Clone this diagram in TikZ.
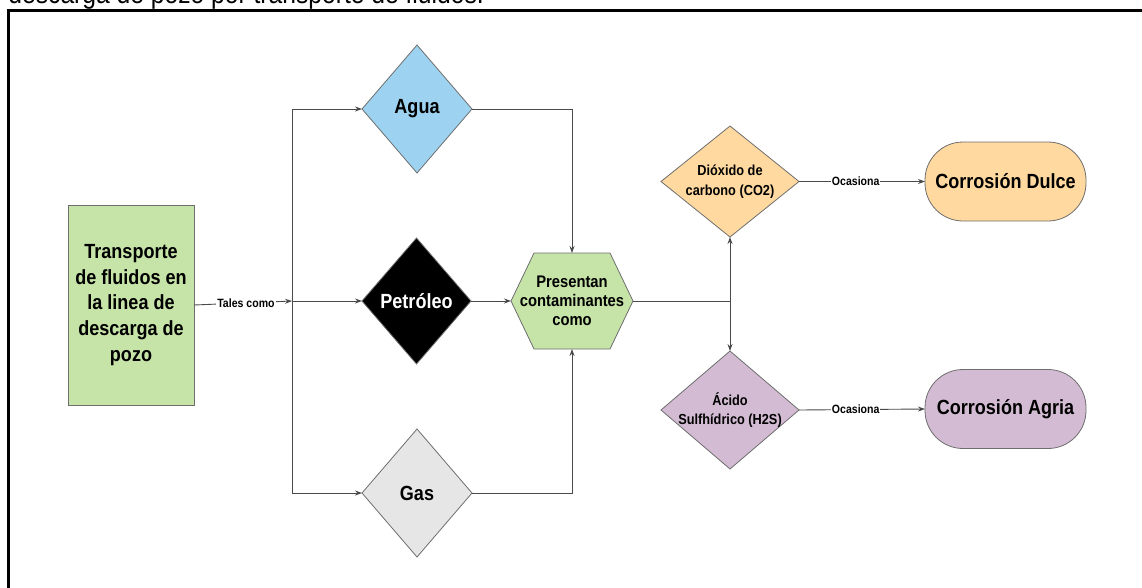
\documentclass[tikz,border=0pt]{standalone}
\usepackage{fontspec}
\setmainfont{Liberation Sans}[FakeStretch=0.88]
\usetikzlibrary{shapes.geometric,arrows.meta,backgrounds}

\definecolor{leafgreen}{HTML}{C6E4A8}
\definecolor{skyblue}{HTML}{9DD3F0}
\definecolor{paleg}{HTML}{E6E6E6}
\definecolor{peach}{HTML}{FFD9A0}
\definecolor{lilac}{HTML}{D3BCD3}
\definecolor{edgegray}{HTML}{6E6E6E}
\definecolor{wire}{HTML}{4A4A4A}

\begin{document}
\begin{tikzpicture}[x=1pt,y=-1pt,
  every node/.style={inner sep=0pt, outer sep=0pt},
  bigfont/.style={font=\fontsize{20.5}{25.6}\selectfont\bfseries},
  midfont/.style={font=\fontsize{16.8}{19}\selectfont\bfseries},
  smallfont/.style={font=\fontsize{14.5}{19.5}\selectfont\bfseries},
  tagfont/.style={font=\fontsize{12}{14}\selectfont\bfseries},
  procbox/.style={rectangle, draw=edgegray, line width=0.8pt, fill=leafgreen,
    minimum width=126, minimum height=200, align=center, bigfont},
  choice/.style={diamond, draw=edgegray, line width=0.8pt},
  dtext/.style={align=center},
  pill/.style={rectangle, rounded corners=38, draw=edgegray, line width=0.8pt,
    minimum width=161, minimum height=79, bigfont},
  wireline/.style={draw=wire, line width=0.9pt},
  arrowline/.style={wireline, -{Stealth[length=7pt,width=5pt]}},
  tag/.style={fill=white, inner xsep=1pt, inner ysep=1pt, tagfont}
]
\useasboundingbox (0,0) rectangle (1142,587);
\clip (0,0) rectangle (1142,587);

% caption line above the frame and the frame itself
\node[anchor=base west, font=\fontsize{28}{30}\selectfont] (caption) at (8.5,3.5)
  {descarga de pozo por transporte de fluidos.};
\draw[line width=2.5pt, black] (8.7,620) -- (8.7,10.7) -- (1160,10.7);

% source box
\node[procbox] (source) at (131,305)
  {Transporte\\de fluidos en\\la linea de\\descarga de\\pozo};

% the three fluids
\node[choice, fill=skyblue, minimum width=110, minimum height=128,
  label={[dtext, bigfont]center:Agua}] (agua) at (417,109) {};
\node[choice, fill=black, minimum width=109, minimum height=126,
  label={[dtext, bigfont, text=white]center:Petróleo}] (petroleo) at (416.5,301) {};
\node[choice, fill=paleg, minimum width=110, minimum height=128,
  label={[dtext, bigfont]center:Gas}] (gas) at (417,493) {};

% hexagon collecting the fluids
\node[rectangle, minimum width=122, minimum height=96, align=center, midfont]
  (hex) at (572,301) {Presentan\\contaminantes\\como};
\begin{scope}[on background layer]
  \draw[fill=leafgreen, draw=edgegray, line width=0.8pt]
    (hex.west) -- ([xshift=23pt]hex.north west) -- ([xshift=-23pt]hex.north east)
    -- (hex.east) -- ([xshift=-23pt]hex.south east) -- ([xshift=23pt]hex.south west)
    -- cycle;
\end{scope}

% contaminants
\node[choice, fill=peach, minimum width=138, minimum height=111,
  label={[dtext, smallfont]center:{Dióxido de\\carbono (CO2)}}] (co2) at (730,181.5) {};
\node[choice, fill=lilac, minimum width=138, minimum height=118,
  label={[dtext, smallfont]center:{Ácido\\Sulfhídrico (H2S)}}] (h2s) at (730,410) {};

% consequences
\node[pill, fill=peach] (dulce) at (1005.5,181.5) {Corrosión Dulce};
\node[pill, fill=lilac] (agria) at (1005.5,409) {Corrosión Agria};

% branch points
\coordinate (split) at (292,301);
\coordinate (fork) at (730,301);

% connectors
\draw[arrowline] (source.east) -- node[tag, pos=0.53] (tales) {Tales como} (split);
\draw[arrowline] (split) -- (petroleo.west);
\draw[arrowline] (split) |- (agua.west);
\draw[arrowline] (split) |- (gas.west);
\draw[arrowline] (petroleo.east) -- (hex.west);
\draw[arrowline] (agua.east) -| (hex.north);
\draw[arrowline] (gas.east) -| (hex.south);
\draw[wireline] (hex.east) -- (fork);
\draw[arrowline] (fork) -- (co2.south);
\draw[arrowline] (fork) -- (h2s.north);
\draw[arrowline] (co2.east) -- node[tag, pos=0.45] (oca1) {Ocasiona} (dulce.west);
\draw[arrowline] (h2s.east) -- node[tag, pos=0.45] (oca2) {Ocasiona} (agria.west);
\end{tikzpicture}
\end{document}
